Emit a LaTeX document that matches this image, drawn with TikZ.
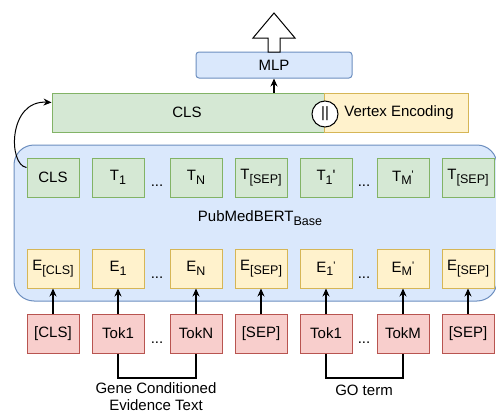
\documentclass[tikz,border=0pt]{standalone}
\usepackage{fontspec}
\setmainfont{Liberation Sans}
\usetikzlibrary{arrows.meta}
\definecolor{gfill}{HTML}{D5E8D4}\definecolor{gline}{HTML}{82B366}
\definecolor{yfill}{HTML}{FFF2CC}\definecolor{yline}{HTML}{D6B656}
\definecolor{rfill}{HTML}{F8CECC}\definecolor{rline}{HTML}{B85450}
\definecolor{bfill}{HTML}{DAE8FC}\definecolor{bline}{HTML}{6C8EBF}
\newcommand{\sbs}[1]{\raisebox{-3.5pt}{\fontsize{12.5}{12.5}\selectfont #1}}
\newcommand{\pr}{\raisebox{3pt}{\fontsize{11}{11}\selectfont\textquotesingle}}
\begin{document}
\begin{tikzpicture}[x=1pt,y=-1pt,font=\fontsize{15}{18}\selectfont,
  tok/.style={minimum width=52pt,minimum height=39pt,inner sep=0pt,line width=1pt},
  tbox/.style={tok,draw=gline,fill=gfill},
  ebox/.style={tok,draw=yline,fill=yfill},
  rbox/.style={tok,draw=rline,fill=rfill},
  arr/.style={-{Stealth[length=8pt,width=7pt]},line width=1.2pt},
  brk/.style={line width=1.2pt},
  dots/.style={inner sep=0pt}]
\useasboundingbox (0,0) rectangle (496,415);
% PubMedBERT block
\draw[bline,fill=bfill,line width=1pt,rounded corners=20pt] (14,145) rectangle (497,301);
\node (bert) at (260,218) {PubMedBERT\sbs{Base}};
% top bar
\node[draw=gline,fill=gfill,line width=1pt,minimum width=272pt,minimum height=39pt,inner sep=0pt] (clsbar) at (188,112.5) {};
\node at (187,112.5) {CLS};
\node[draw=yline,fill=yfill,line width=1pt,minimum width=144pt,minimum height=39pt,inner sep=0pt] (vbar) at (396,112.5) {};
\node at (399,112.5) {Vertex Encoding};
\node[circle,draw=black,fill=white,line width=1pt,minimum size=26pt,inner sep=0pt] (cat) at (325,114) {||};
% MLP
\node[draw=bline,fill=bfill,line width=1pt,rounded corners=3pt,minimum width=156pt,minimum height=26pt,inner sep=0pt] (mlp) at (274,65) {MLP};
\draw[line width=1pt,fill=white] (268,52) -- (268,38) -- (253,38) -- (274,13) -- (295,38) -- (280,38) -- (280,52) -- cycle;
\draw[arr] (mlp.south |- clsbar.north) -- (mlp.south);
% T row
\node[tbox] (t1) at (53,177.5) {CLS};
\node[tbox] (t2) at (118,177.5) {T\sbs{1}};
\node[tbox] (t3) at (196,177.5) {T\sbs{N}};
\node[tbox] (t4) at (261,177.5) {T\sbs{[SEP]}};
\node[tbox] (t5) at (326,177.5) {T\sbs{1}\textquotesingle};
\node[tbox] (t6) at (403,177.5) {T\sbs{M}\pr};
\node[tbox] (t7) at (468,177.5) {T\sbs{[SEP]}};
% E row
\node[ebox] (e1) at (53,268.5) {E\sbs{[CLS]}};
\node[ebox] (e2) at (118,268.5) {E\sbs{1}};
\node[ebox] (e3) at (196,268.5) {E\sbs{N}};
\node[ebox] (e4) at (261,268.5) {E\sbs{[SEP]}};
\node[ebox] (e5) at (326,268.5) {E\sbs{1}\pr};
\node[ebox] (e6) at (403,268.5) {E\sbs{M}\pr};
\node[ebox] (e7) at (468,268.5) {E\sbs{[SEP]}};
% token row
\node[rbox] (r1) at (53,333.5) {[CLS]};
\node[rbox] (r2) at (118,333.5) {Tok1};
\node[rbox] (r3) at (196,333.5) {TokN};
\node[rbox] (r4) at (261,333.5) {[SEP]};
\node[rbox] (r5) at (326,333.5) {Tok1};
\node[rbox] (r6) at (403,333.5) {TokM};
\node[rbox] (r7) at (468,333.5) {[SEP]};
% dots
\foreach \y/\n in {186/a,278/b,343/c}{
  \node[dots] (dl\n) at (157,\y) {...};
  \node[dots] (dr\n) at (364,\y) {...};
}
% arrows
\foreach \i in {1,...,7}{\draw[arr] (r\i.north) -- (e\i.south);}
% curved arrow
\draw[arr,line width=1pt] ([yshift=-10pt]t1.north west) .. controls (8,165) and (8,100) .. ([yshift=-10pt]clsbar.north west);
% brackets
\coordinate (b1) at (157,378);
\coordinate (b2) at (364,378);
\draw[brk] (r2.south) |- (b1) -| (r3.south);
\draw[brk] (r5.south) |- (b2) -| (r6.south);
\node[align=center,inner sep=0pt,font=\fontsize{15}{17}\selectfont] (lab1) at (156,397) {Gene Conditioned\\Evidence Text};
\node (lab2) at (364,390) {GO term};
\end{tikzpicture}
\end{document}
